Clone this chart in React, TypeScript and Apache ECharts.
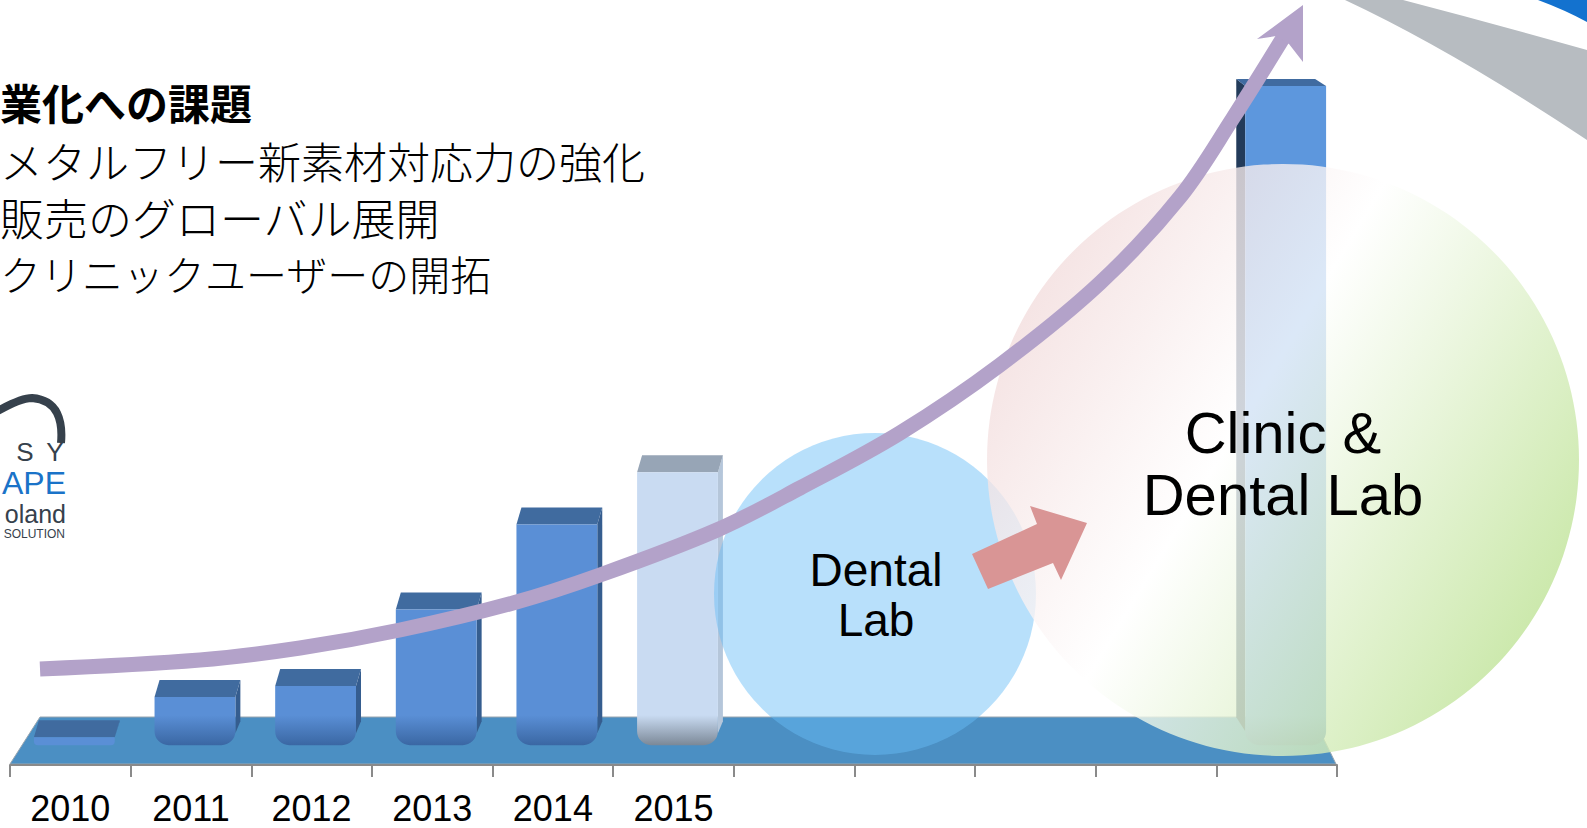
import React, { useEffect, useRef } from "react";
import * as echarts from "echarts";

// ---- data ----
const years = ["2010", "2011", "2012", "2013", "2014", "2015", "2016", "2017", "2018", "2019", "2020"];
const labelledYears = ["2010", "2011", "2012", "2013", "2014", "2015"];
const sales: (number | null)[] = [1.2, 7.3, 9.0, 20.6, 33.5, 41.4, null, null, null, null, 100];
const barKinds = ["actual", "actual", "actual", "actual", "actual", "forecast", "", "", "", "", "target"];
const headline = "業化への課題";
const bullets = ["メタルフリー新素材対応力の強化", "販売のグローバル展開", "クリニックユーザーの開拓"];
const smallCircleLabel = ["Dental", "Lab"];
const bigCircleLabel = ["Clinic &", "Dental Lab"];
const logoTexts = ["S", "Y", "APE", "oland", "SOLUTION"];

// ---- decorative shapes ----
echarts.graphic.registerShape(
  "swooshGray",
  echarts.graphic.extendPath("M1345,0 L1403,0 Q1495,24 1587,50 L1587,140 Q1452,50 1345,0 Z", {})
);
echarts.graphic.registerShape(
  "swooshBlue",
  echarts.graphic.extendPath("M1538,0 L1587,0 L1587,22 Q1565,10 1538,0 Z", {})
);
echarts.graphic.registerShape(
  "logoArc",
  echarts.graphic.extendPath("M-4,412 C10,404 22,398 32,398 C45,399 53,405 57,413 C61,421 62,432 61,443", {})
);

const palette: Record<string, { front: string; dark: string; top: string; side: string }> = {
  actual: { front: "#5a8fd6", dark: "#3a67a3", top: "#406b9f", side: "#355d8f" },
  forecast: { front: "#c9dbf2", dark: "#7b8897", top: "#97a5b6", side: "#b5c6da" },
  target: { front: "#5d97dd", dark: "#4a78b0", top: "#406ba0", side: "#233b5a" },
};

const latin = "'Liberation Sans', Arial, sans-serif";
const cjk = "'Noto Sans CJK JP', sans-serif";

function txt(x: number, y: number, text: string, fontSize: number, fill: string, align: string, extra: any = {}) {
  return {
    type: "text", z: 10, x, y,
    style: {
      text, fontSize, fill, fontFamily: latin,
      align, verticalAlign: "middle", textAlign: align, textVerticalAlign: "middle",
      ...extra,
    },
  };
}

export default function App() {
  const ref = useRef<HTMLDivElement>(null);
  useEffect(() => {
    document.body.style.margin = "0";
    const chart = echarts.init(ref.current!, null, { renderer: "svg" });
    const data = sales
      .map((v, i) => (v == null ? null : [i, v]))
      .filter((d) => d != null);

    const trend = [
      [40, 669], [200, 660], [300, 648], [400, 630], [513, 603], [600, 575],
      [717, 530], [800, 488], [900, 433], [1000, 365], [1100, 283], [1180, 197],
      [1233, 118], [1283, 38],
    ];

    const graphic: any[] = [
      // floor
      {
        type: "polygon", z: 0,
        shape: { points: [[40, 717], [1313, 717], [1336, 764], [10, 764]] },
        style: { fill: "#4b8fc3", stroke: "#9aa6b0", lineWidth: 1 },
      },
      // swoosh top-right
      { type: "swooshGray", z: 1, style: { fill: "#b7bcc1" } },
      { type: "swooshBlue", z: 1, style: { fill: "#1372cf" } },
      // logo
      { type: "logoArc", z: 1, style: { fill: "none", stroke: "#36414c", lineWidth: 8 } },
      txt(25, 452, logoTexts[0], 26, "#36414c", "center"),
      txt(55, 452, logoTexts[1], 26, "#36414c", "center"),
      txt(66, 483, logoTexts[2], 32, "#1a73c8", "right"),
      txt(66, 514, logoTexts[3], 25, "#36414c", "right"),
      txt(65, 534, logoTexts[4], 12, "#36414c", "right"),
      // Japanese text
      txt(0, 101, headline, 42, "#000", "left", { fontWeight: "bold", fontFamily: cjk }),
      ...bullets.map((b, i) =>
        txt(0, [160, 217, 273][i], b, [43, 44, 41][i], "#000", "left", { fontFamily: cjk, fontWeight: 300 })
      ),
      // circles
      { type: "circle", z: 5, shape: { cx: 875, cy: 594, r: 161 }, style: { fill: "rgba(104,189,247,0.47)" } },
      {
        type: "circle", z: 6, shape: { cx: 1283, cy: 460, r: 296 },
        style: {
          fill: new echarts.graphic.LinearGradient(0, 0.2, 1, 0.8, [
            { offset: 0, color: "rgba(240,214,214,0.78)" },
            { offset: 0.42, color: "rgba(255,255,255,0.78)" },
            { offset: 1, color: "rgba(184,224,140,0.82)" },
          ]),
        },
      },
      // salmon arrow
      {
        type: "polygon", z: 8,
        shape: { points: [[972, 554], [1037, 524], [1030, 506], [1087, 523], [1061, 580], [1053, 563], [988, 589]] },
        style: { fill: "#d99595" },
      },
      // purple trend arrow
      {
        type: "polyline", z: 8,
        shape: { points: trend, smooth: 0.35 },
        style: { fill: "none", stroke: "#b3a2c9", lineWidth: 15, lineCap: "butt" },
      },
      {
        type: "polygon", z: 8,
        shape: { points: [[1303, 5], [1257, 39], [1276, 36], [1289, 44], [1303, 62]] },
        style: { fill: "#b3a2c9" },
      },
      // circle labels
      ...smallCircleLabel.map((t, i) => txt(876, 570 + i * 50, t, 46, "#000", "center")),
      ...bigCircleLabel.map((t, i) => txt(1283, 432 + i * 62, t, 58, "#000", "center")),
    ];

    chart.setOption({
      animation: false,
      backgroundColor: "#ffffff",
      grid: { left: 10, right: 250, top: 86, bottom: 63, containLabel: false },
      xAxis: {
        type: "category",
        data: years,
        boundaryGap: true,
        z: 3,
        axisLine: { show: true, onZero: false, lineStyle: { color: "#8a8a8a", width: 2 } },
        axisTick: { show: true, length: 12, lineStyle: { color: "#8a8a8a", width: 2 } },
        axisLabel: {
          interval: 0,
          margin: 25,
          fontSize: 36,
          fontFamily: latin,
          color: "#000",
          formatter: (v: string) => (labelledYears.includes(v) ? v : ""),
        },
        splitLine: { show: false },
      },
      yAxis: { type: "value", min: -3, max: 100, show: false },
      graphic,
      series: [
        {
          type: "custom",
          z: 2,
          encode: { x: 0, y: 1 },
          data,
          renderItem: (params: any, api: any) => {
            const idx = api.value(0);
            const val = api.value(1);
            const kind = barKinds[idx] || "actual";
            const c = palette[kind];
            const top = api.coord([idx, val]);
            const base = api.coord([idx, 0]);
            const catW = api.size([1, 0])[0];
            const w = catW * 0.67;
            const cx = top[0] + (kind === "target" ? 9 : 4);
            const x0 = cx - w / 2;
            const x1 = cx + w / 2;
            const yT = top[1];
            const yB = base[1];
            const h = yB - yT;
            const r = Math.min(14, h / 2);
            const children: any[] = [];
            if (kind === "target") {
              children.push({ type: "polygon", shape: { points: [[x0 - 9, yT - 7], [x0, yT], [x0, yB - 14], [x0 - 9, yB - 28]] }, style: { fill: c.side } });
              children.push({ type: "polygon", shape: { points: [[x0, yT], [x0 - 9, yT - 7], [x1 - 11, yT - 7], [x1, yT]] }, style: { fill: c.top } });
            } else {
              children.push({ type: "polygon", shape: { points: [[x1, yT], [x1 + 5, yT - 17], [x1 + 5, Math.max(yT - 17, yB - 24)], [x1, Math.max(yT, yB - 12)]] }, style: { fill: c.side } });
              children.push({ type: "polygon", shape: { points: [[x0, yT], [x0 + 5, yT - 17], [x1 + 5, yT - 17], [x1, yT]] }, style: { fill: c.top } });
            }
            const s = h > 30 ? (h - 30) / h : 0;
            const fill =
              h > 20
                ? new echarts.graphic.LinearGradient(0, 0, 0, 1, [
                    { offset: 0, color: c.front },
                    { offset: s, color: c.front },
                    { offset: 1, color: c.dark },
                  ])
                : c.front;
            children.push({ type: "rect", shape: { x: x0, y: yT, width: w, height: h, r: [0, 0, r, r] }, style: { fill } });
            return { type: "group", children };
          },
        },
      ],
    });
    return () => chart.dispose();
  }, []);
  return <div ref={ref} style={{ width: 1587, height: 828, position: "absolute", left: 0, top: 0 }} />;
}
